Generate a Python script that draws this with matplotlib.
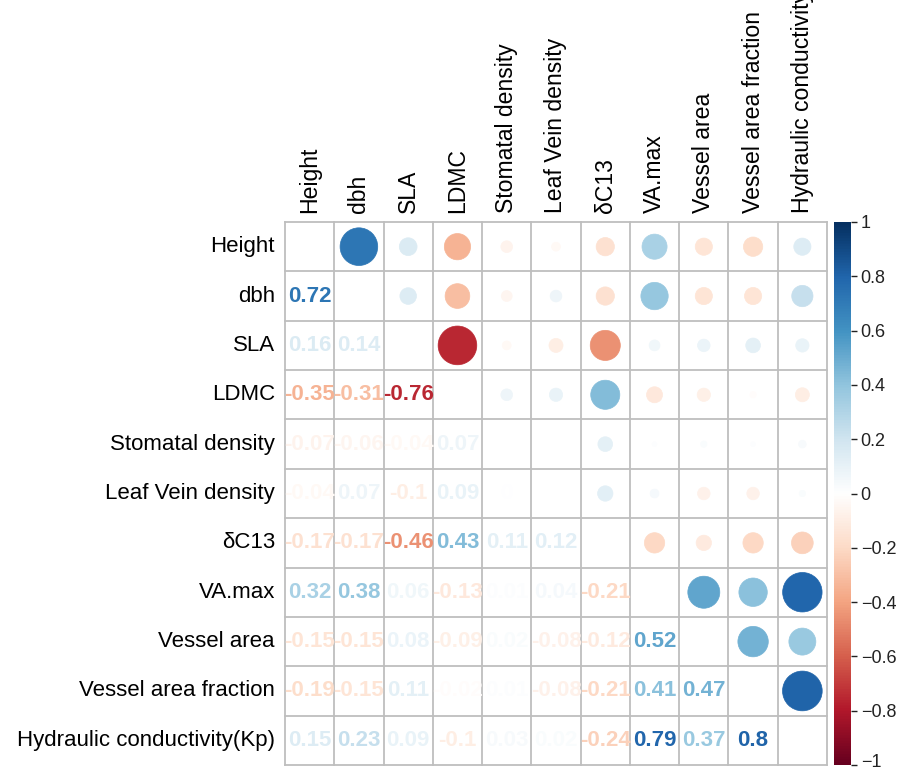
import numpy as np
import matplotlib
matplotlib.use("Agg")
import matplotlib.pyplot as plt
from matplotlib.colors import LinearSegmentedColormap
from matplotlib.patches import Circle
from matplotlib.transforms import ScaledTranslation

plt.rcParams['font.family'] = ['Liberation Sans', 'DejaVu Sans']

names = ["Height", "dbh", "SLA", "LDMC", "Stomatal density", "Leaf Vein density",
         "δC13", "VA.max", "Vessel area", "Vessel area fraction",
         "Hydraulic conductivity(Kp)"]

# lower-triangle correlations, row by row
lower = [
    [0.72],
    [0.16, 0.14],
    [-0.35, -0.31, -0.76],
    [-0.07, -0.06, -0.04, 0.07],
    [-0.04, 0.07, -0.10, 0.09, 0.00],
    [-0.17, -0.17, -0.46, 0.43, 0.11, 0.12],
    [0.32, 0.38, 0.06, -0.13, 0.01, 0.04, -0.21],
    [-0.15, -0.15, 0.08, -0.09, 0.02, -0.08, -0.12, 0.52],
    [-0.19, -0.15, 0.11, -0.02, 0.01, -0.08, -0.21, 0.41, 0.47],
    [0.15, 0.23, 0.09, -0.10, 0.03, 0.02, -0.24, 0.79, 0.37, 0.80],
]
cbar_ticks = [-1, -0.8, -0.6, -0.4, -0.2, 0, 0.2, 0.4, 0.6, 0.8, 1]

n = len(names)
M = np.eye(n)
for i, row in enumerate(lower, start=1):
    for j, v in enumerate(row):
        M[i, j] = v
        M[j, i] = v

cols = ["#67001F", "#B2182B", "#D6604D", "#F4A582", "#FDDBC7", "#FFFFFF",
        "#D1E5F0", "#92C5DE", "#4393C3", "#2166AC", "#053061"]
cmap = LinearSegmentedColormap.from_list("RdBu_corr", cols, N=200)

def col_of(v):
    return cmap((v + 1) / 2)

W, H = 912, 771
fig = plt.figure(figsize=(W / 100, H / 100), dpi=100)

gx0, gx1, gy0, gy1 = 285, 827, 222, 765
ax = fig.add_axes([gx0 / W, 1 - gy1 / H, (gx1 - gx0) / W, (gy1 - gy0) / H])
ax.set_xlim(0, n)
ax.set_ylim(n, 0)
ax.axis('off')

# cells
for i in range(n):
    for j in range(n):
        v = M[i, j]
        if i > j:
            txt = f"{round(v, 2):g}"
            ax.text(j + 0.5, i + 0.5, txt, ha='center', va='center',
                    fontsize=16, fontweight='bold', color=col_of(v), zorder=3)
        elif j > i:
            r = 0.45 * np.sqrt(abs(v))
            ax.add_patch(Circle((j + 0.5, i + 0.5), r, facecolor=col_of(v),
                                edgecolor=col_of(v), lw=0.5, zorder=2))

# grid
for k in range(n + 1):
    ax.plot([0, n], [k, k], color='#BEBEBE', lw=1.3, zorder=1, clip_on=False)
    ax.plot([k, k], [0, n], color='#BEBEBE', lw=1.3, zorder=1, clip_on=False)

# row labels
cell_h = (gy1 - gy0) / n
cell_w = (gx1 - gx0) / n
for i, name in enumerate(names):
    y = 1 - (gy0 + (i + 0.5) * cell_h) / H
    fig.text((gx0 - 10) / W, y, name, ha='right', va='center', fontsize=16)
# column labels
for j, name in enumerate(names):
    x = (gx0 + (j + 0.5) * cell_w) / W
    fig.text(x, 1 - (gy0 - 9) / H, name, rotation=90, ha='center', va='bottom',
             fontsize=16.6)

# colorbar
cax = fig.add_axes([834 / W, 1 - gy1 / H, 17 / W, (gy1 - gy0) / H])
grad = np.linspace(-1, 1, 400).reshape(-1, 1)
cax.imshow(grad, aspect='auto', cmap=cmap, vmin=-1, vmax=1, origin='lower',
           extent=[0, 1, -1, 1])
cax.set_xlim(0, 1)
cax.set_ylim(-1, 1)
cax.set_xticks([])
cax.yaxis.tick_right()
cax.set_yticks(cbar_ticks)
cax.set_yticklabels([("\u2212" + f"{abs(t):g}") if t < 0 else f"{t:g}" for t in cbar_ticks])
cax.tick_params(axis='y', length=4, width=1, pad=3, labelsize=13, colors='#222222')
for s in cax.spines.values():
    s.set_visible(False)
lab_bottom = cax.get_yticklabels()[0]
lab_bottom.set_transform(lab_bottom.get_transform() +
                         ScaledTranslation(0, 3 / 72, fig.dpi_scale_trans))

fig.savefig("out.png", dpi=100, facecolor='white')
